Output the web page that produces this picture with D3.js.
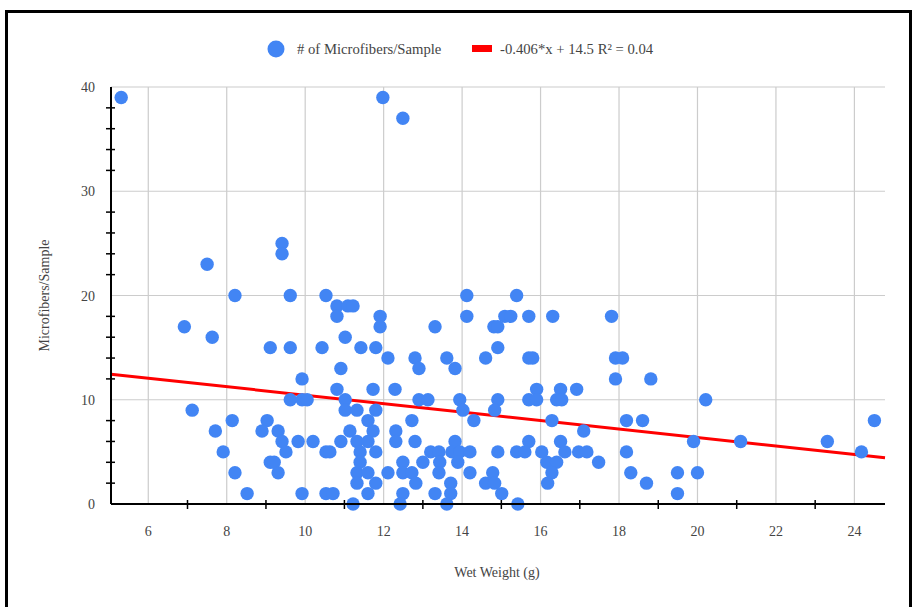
<!DOCTYPE html>
<html>
<head>
<meta charset="utf-8">
<script src="https://cdn.jsdelivr.net/npm/d3@7"></script>
<style>
  body { margin: 0; background: #fff; }
  text { font-family: "Liberation Serif", "DejaVu Serif", serif; fill: #444; }
</style>
</head>
<body>
<svg id="chart"></svg>
<script>
// wet weight (g) of each sample
const weights = [5.31, 11.98, 12.49, 9.41, 9.41, 7.50, 8.21, 9.62, 10.53, 14.12,
  15.39, 10.81, 11.09, 11.22, 10.81, 11.91, 11.91, 14.12, 15.09, 15.24,
  15.70, 16.31, 17.81, 6.92, 7.63, 13.31, 14.81, 14.91, 11.02, 9.11,
  9.62, 10.43, 11.42, 11.80, 14.91, 12.11, 12.80, 13.61, 14.60, 15.70,
  15.80, 17.91, 18.09, 10.91, 12.90, 13.82, 9.92, 17.91, 18.81, 10.81,
  11.73, 12.29, 15.90, 16.51, 16.92, 9.62, 9.92, 10.05, 11.02, 12.90,
  13.13, 13.94, 14.91, 15.70, 15.90, 16.41, 16.54, 20.21, 7.12, 11.02,
  11.32, 11.80, 14.02, 14.83, 8.14, 9.03, 11.60, 12.72, 14.30, 16.29,
  18.19, 18.60, 24.51, 7.71, 8.90, 9.31, 11.14, 11.73, 12.31, 17.10,
  9.41, 9.82, 10.20, 10.91, 11.32, 11.60, 12.31, 12.80, 13.82, 15.70,
  16.51, 19.90, 21.10, 23.31, 7.91, 9.51, 10.53, 10.63, 11.40, 11.80,
  13.20, 13.41, 13.74, 13.94, 14.20, 14.91, 15.39, 15.60, 16.03, 16.62,
  16.97, 17.18, 18.19, 24.18, 9.11, 9.21, 11.40, 12.49, 13.00, 13.43,
  13.89, 16.16, 16.41, 17.48, 8.21, 9.31, 11.32, 11.60, 12.11, 12.49,
  12.72, 13.41, 14.20, 14.78, 16.29, 18.30, 19.49, 20.00, 11.32, 11.80,
  12.82, 13.71, 14.60, 14.83, 16.18, 18.70, 8.52, 9.92, 10.53, 10.71,
  11.60, 12.49, 13.31, 13.71, 15.01, 19.49, 11.22, 12.42, 13.61, 15.42];

// microfibers counted in each sample
const counts = [39, 39, 37, 25, 24, 23, 20, 20, 20, 20,
  20, 19, 19, 19, 18, 18, 17, 18, 18, 18,
  18, 18, 18, 17, 16, 17, 17, 17, 16, 15,
  15, 15, 15, 15, 15, 14, 14, 14, 14, 14,
  14, 14, 14, 13, 13, 13, 12, 12, 12, 11,
  11, 11, 11, 11, 11, 10, 10, 10, 10, 10,
  10, 10, 10, 10, 10, 10, 10, 10, 9, 9,
  9, 9, 9, 9, 8, 8, 8, 8, 8, 8,
  8, 8, 8, 7, 7, 7, 7, 7, 7, 7,
  6, 6, 6, 6, 6, 6, 6, 6, 6, 6,
  6, 6, 6, 6, 5, 5, 5, 5, 5, 5,
  5, 5, 5, 5, 5, 5, 5, 5, 5, 5,
  5, 5, 5, 5, 4, 4, 4, 4, 4, 4,
  4, 4, 4, 4, 3, 3, 3, 3, 3, 3,
  3, 3, 3, 3, 3, 3, 3, 3, 2, 2,
  2, 2, 2, 2, 2, 2, 1, 1, 1, 1,
  1, 1, 1, 1, 1, 1, 0, 0, 0, 0];

// linear trendline shown in the legend
const trendSlope = -0.406;
const trendIntercept = 14.5;
const trendLabel = "-0.406*x + 14.5 R\u00b2 = 0.04";
const seriesLabel = "# of Microfibers/Sample";

const xTicks = [6, 8, 10, 12, 14, 16, 18, 20, 22, 24];
const xMinorTicks = [7, 9, 11, 13, 15, 17, 19, 21, 23];
const yTicks = [0, 10, 20, 30, 40];
const yMinorTicks = [2, 4, 6, 8, 12, 14, 16, 18, 22, 24, 26, 28, 32, 34, 36, 38];

const width = 915, height = 607;
const margin = { top: 87, bottom: 103, left: 111, right: 30 };
const blue = "#4285f4";

const svg = d3.select("#chart")
  .attr("width", width)
  .attr("height", height);

// outer frame
svg.append("rect")
  .attr("x", 6.5).attr("y", 11.5)
  .attr("width", 904).attr("height", 640)
  .attr("fill", "none")
  .attr("stroke", "#000")
  .attr("stroke-width", 3);

const data = weights.map((w, i) => ({ x: w, y: counts[i] }));

const xScale = d3.scaleLinear()
  .domain([5.05, 24.78])
  .range([margin.left, width - margin.right]);

const yScale = d3.scaleLinear()
  .domain([0, 40])
  .range([height - margin.bottom, margin.top]);

// grid
svg.append("g")
  .selectAll("line")
  .data(xTicks)
  .join("line")
    .attr("x1", d => xScale(d)).attr("x2", d => xScale(d))
    .attr("y1", yScale(0)).attr("y2", yScale(40))
    .attr("stroke", "#cccccc")
    .attr("stroke-width", 1.2);

svg.append("g")
  .selectAll("line")
  .data(yTicks.filter(d => d > 0))
  .join("line")
    .attr("x1", xScale.range()[0]).attr("x2", xScale.range()[1])
    .attr("y1", d => yScale(d)).attr("y2", d => yScale(d))
    .attr("stroke", "#cccccc")
    .attr("stroke-width", 1.2);

// tick labels
svg.append("g")
  .selectAll("text")
  .data(xTicks)
  .join("text")
    .attr("x", d => xScale(d))
    .attr("y", 536)
    .attr("text-anchor", "middle")
    .style("font-size", "14px")
    .text(d => d);

svg.append("g")
  .selectAll("text")
  .data(yTicks)
  .join("text")
    .attr("x", 95)
    .attr("y", d => yScale(d) + 5)
    .attr("text-anchor", "end")
    .style("font-size", "14px")
    .text(d => d);

// trendline
const line = d3.line()
  .x(d => xScale(d))
  .y(d => yScale(trendSlope * d + trendIntercept));

svg.append("path")
  .datum(xScale.domain())
  .attr("d", line)
  .attr("fill", "none")
  .attr("stroke", "#ff0000")
  .attr("stroke-width", 3);

// points
svg.append("g")
  .selectAll("circle")
  .data(data)
  .join("circle")
    .attr("cx", d => xScale(d.x))
    .attr("cy", d => yScale(d.y))
    .attr("r", 6.7)
    .attr("fill", blue);

// axes with minor ticks
const axisG = svg.append("g").attr("stroke", "#000");
axisG.append("line")
  .attr("x1", xScale.range()[0]).attr("x2", xScale.range()[1])
  .attr("y1", yScale(0)).attr("y2", yScale(0))
  .attr("stroke-width", 2);
axisG.append("line")
  .attr("x1", xScale.range()[0]).attr("x2", xScale.range()[0])
  .attr("y1", yScale(0)).attr("y2", yScale(40))
  .attr("stroke-width", 2);
axisG.selectAll(".xt")
  .data(xMinorTicks)
  .join("line")
    .attr("class", "xt")
    .attr("x1", d => xScale(d)).attr("x2", d => xScale(d))
    .attr("y1", yScale(0) - 4).attr("y2", yScale(0) + 5)
    .attr("stroke-width", 1.5);
axisG.selectAll(".yt")
  .data(yMinorTicks)
  .join("line")
    .attr("class", "yt")
    .attr("x1", xScale.range()[0] - 5).attr("x2", xScale.range()[0] + 4)
    .attr("y1", d => yScale(d)).attr("y2", d => yScale(d))
    .attr("stroke-width", 1.5);

// axis titles
svg.append("text")
  .attr("x", 497)
  .attr("y", 577)
  .attr("text-anchor", "middle")
  .style("font-size", "14px")
  .text("Wet Weight (g)");

svg.append("text")
  .attr("transform", `translate(49,${(yScale(0) + yScale(40)) / 2}) rotate(-90)`)
  .attr("text-anchor", "middle")
  .style("font-size", "14px")
  .text("Microfibers/Sample");

// legend
const legend = svg.append("g");
legend.append("circle")
  .attr("cx", 276).attr("cy", 49).attr("r", 8.5)
  .attr("fill", blue);
legend.append("text")
  .attr("x", 297).attr("y", 54)
  .style("font-size", "14.7px")
  .text(seriesLabel);
legend.append("rect")
  .attr("x", 472).attr("y", 45)
  .attr("width", 20).attr("height", 7)
  .attr("fill", "#ff0000");
legend.append("text")
  .attr("x", 500).attr("y", 54)
  .style("font-size", "14.7px")
  .text(trendLabel);
</script>
</body>
</html>
